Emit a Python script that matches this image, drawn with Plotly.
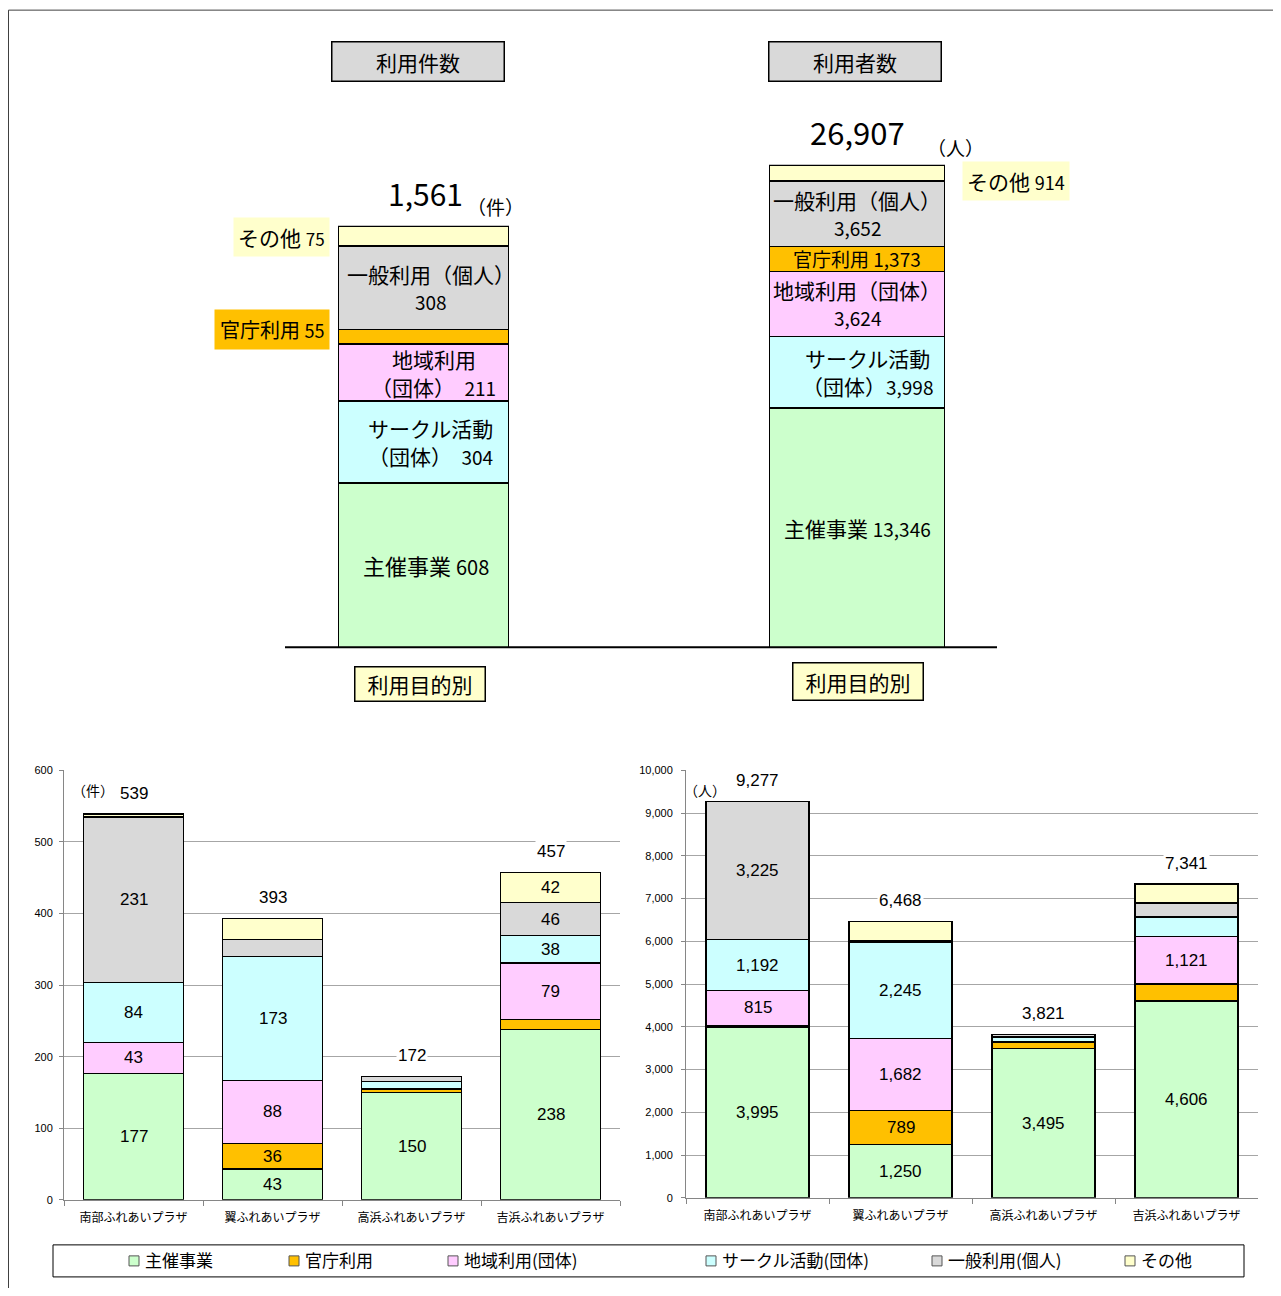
import plotly.graph_objects as go

W, H = 1281, 1296
OX, OY = 8, 8            # page body margin
FW, FH = W - 16, H - 16  # figure size

# ---------------- data ----------------
categories = ["主催事業", "官庁利用", "地域利用(団体)", "サークル活動(団体)", "一般利用(個人)", "その他"]
colors = ["#ccffcc", "#ffc000", "#ffccff", "#ccffff", "#d9d9d9", "#ffffcc"]

total_counts = [608, 55, 211, 304, 308, 75]          # 件
total_users = [13346, 1373, 3624, 3998, 3652, 914]   # 人

plazas = ["南部ふれあいプラザ", "翼ふれあいプラザ", "高浜ふれあいプラザ", "吉浜ふれあいプラザ"]

counts_host = [177, 43, 150, 238]
counts_gov = [0, 36, 5, 14]
counts_local = [43, 88, 1, 79]
counts_circle = [84, 173, 9, 38]
counts_general = [231, 24, 7, 46]
counts_other = [4, 29, 0, 42]

users_host = [3995, 1250, 3495, 4606]
users_gov = [40, 789, 150, 394]
users_local = [815, 1682, 6, 1121]
users_circle = [1192, 2245, 111, 450]
users_general = [3225, 44, 59, 324]
users_other = [10, 458, 0, 446]

count_series = [counts_host, counts_gov, counts_local, counts_circle, counts_general, counts_other]
user_series = [users_host, users_gov, users_local, users_circle, users_general, users_other]

# stacking order of the big bars (bottom -> top): 主催, サークル, 地域, 官庁, 一般, その他
big_order = [0, 3, 2, 1, 4, 5]

# inside labels of the big bars: category index -> (lines, horizontal nudge, jp size, number size)
count_labels = {0: (["主催事業 {}"], 2, 22, 20),
                3: (["サークル活動", "（団体）  {}"], 7, 21, 19),
                2: (["地域利用", "（団体）  {}"], 10, 21, 19),
                4: (["一般利用（個人）", "{}"], 7, 21, 19)}
user_labels = {0: (["主催事業 {}"], 0, 21, 19),
               3: (["サークル活動", "（団体）{}"], 10, 21, 19),
               2: (["地域利用（団体）", "{}"], 0, 21, 19),
               1: (["官庁利用 {}"], 0, 19, 19),
               4: (["一般利用（個人）", "{}"], 0, 21, 19)}

JP = "Noto Sans CJK JP"
NUM = "Liberation Sans Narrow, Liberation Sans, Arial"


def px(x):
    return (x - OX) / FW


def py(y):
    yc = (y - 6.44) / 0.98963
    return 1 - (yc - OY) / FH


fig = go.Figure()

# ---------------- top big bars ----------------
for k in big_order:
    fig.add_bar(x=[0], y=[total_counts[k]], width=1, xaxis="x", yaxis="y", name=categories[k],
                marker=dict(color=colors[k], line=dict(color="black", width=1.5)),
                showlegend=False, hoverinfo="skip")
for k in big_order:
    fig.add_bar(x=[0], y=[total_users[k]], width=1, xaxis="x2", yaxis="y2", name=categories[k],
                marker=dict(color=colors[k], line=dict(color="black", width=1.5)),
                showlegend=False, hoverinfo="skip")

# ---------------- bottom bars ----------------
for cat, col, vals in zip(categories, colors, count_series):
    fig.add_bar(x=plazas, y=vals, xaxis="x3", yaxis="y3", name=cat,
                marker=dict(color=col, line=dict(color="black", width=1.3)),
                showlegend=False, hoverinfo="skip")
for cat, col, vals in zip(categories, colors, user_series):
    fig.add_bar(x=plazas, y=vals, xaxis="x4", yaxis="y4", name=cat,
                marker=dict(color=col, line=dict(color="black", width=1.3)),
                showlegend=False, hoverinfo="skip")

annotations = []


def numspan(s, size):
    return f"<span style='font-size:{size}px'>{s}</span>"


def ann(**kw):
    kw.setdefault("xanchor", "center")
    kw.setdefault("yanchor", "middle")
    kw.setdefault("showarrow", False)
    kw.setdefault("xref", "paper")
    kw.setdefault("yref", "paper")
    annotations.append(kw)


def big_labels(values, labels, xref, yref):
    base = 0
    for k in big_order:
        v = values[k]
        if k in labels:
            lines, nudge, jp_size, num_size = labels[k]
            n = len(lines)
            for j, line in enumerate(lines):
                shift = (n - 1) * 14 - j * 28
                ann(x=0, y=base + v / 2, xref=xref, yref=yref, xshift=nudge, yshift=shift,
                    text=line.format(numspan(f"{v:,}", num_size)),
                    font=dict(size=jp_size, family=JP, color="black"))
        base += v


big_labels(total_counts, count_labels, "x", "y")
big_labels(total_users, user_labels, "x2", "y2")

# callouts outside big bars
ann(x=px(330), y=py(237), xanchor="right",
    text="その他 " + numspan(total_counts[5], 17), bgcolor="#ffffcc", borderpad=4,
    font=dict(size=21, family=JP, color="black"))
ann(x=px(330), y=py(330), xanchor="right",
    text="官庁利用 " + numspan(total_counts[1], 18), bgcolor="#ffc000", borderpad=5,
    font=dict(size=20, family=JP, color="black"))
ann(x=px(962), y=py(181), xanchor="left",
    text="その他 " + numspan(total_users[5], 18), bgcolor="#ffffcc", borderpad=4,
    font=dict(size=21, family=JP, color="black"))
# totals
ann(x=px(425), y=py(193), text=f"{sum(total_counts):,}", font=dict(size=30, family=JP, color="black"))
ann(x=px(495), y=py(207), text="（件）", font=dict(size=19, family=JP, color="black"))
ann(x=px(857), y=py(132), text=f"{sum(total_users):,}", font=dict(size=31, family=JP, color="black"))
ann(x=px(955), y=py(148), text="（人）", font=dict(size=19, family=JP, color="black"))
# title boxes
for cx, cy, txt, bg, w, h in [(418, 62, "利用件数", "#d9d9d9", 171, 38),
                              (855, 62, "利用者数", "#d9d9d9", 171, 38),
                              (420, 684, "利用目的別", "#ffffcc", 129, 33),
                              (858, 681, "利用目的別", "#ffffcc", 129, 36)]:
    ann(x=px(cx), y=py(cy), text=txt, width=w, height=h, bgcolor=bg,
        bordercolor="black", borderwidth=1.5, borderpad=0,
        font=dict(size=21, family=JP, color="black"))
# unit labels
ann(x=px(93), y=py(790), text="（件）", font=dict(size=14, family=JP, color="black"))
ann(x=px(705), y=py(790), text="（人）", font=dict(size=14, family=JP, color="black"))


# bottom value labels
def add_bottom_labels(series, xref, yref, threshold):
    bases = [0] * len(plazas)
    for vals in series:
        for i, v in enumerate(vals):
            if v >= threshold:
                ann(x=plazas[i], y=bases[i] + v / 2, xref=xref, yref=yref, text=f"{v:,}",
                    font=dict(size=17, family=NUM, color="black"))
            bases[i] += v
    for i, tot in enumerate(bases):
        ann(x=plazas[i], y=tot, xref=xref, yref=yref, yshift=21, text=f"{tot:,}",
            bgcolor="white", font=dict(size=17, family=NUM, color="black"))


add_bottom_labels(count_series, "x3", "y3", 35)
add_bottom_labels(user_series, "x4", "y4", 700)

# legend (manual)
legend_sq_x = [129, 289, 448, 706, 932, 1125]
shapes = []
for cat, col, sx in zip(categories, colors, legend_sq_x):
    shapes.append(dict(type="rect", xref="paper", yref="paper", x0=px(sx), x1=px(sx + 10),
                       y0=py(1265), y1=py(1255), fillcolor=col, line=dict(color="#555555", width=1)))
    ann(x=px(sx + 14), y=py(1259), xanchor="left", text=cat,
        font=dict(size=17, family=JP, color="black"))

shapes += [
    # outer frame
    dict(type="rect", xref="paper", yref="paper", x0=px(8.5), x1=px(1300), y0=py(1330), y1=py(10.5),
         line=dict(color="#404040", width=1)),
    # baseline of big bars
    dict(type="line", xref="paper", yref="paper", x0=px(285), x1=px(997), y0=py(647), y1=py(647),
         line=dict(color="black", width=2)),
    # legend box
    dict(type="rect", xref="paper", yref="paper", x0=px(53), x1=px(1244), y0=py(1276), y1=py(1244),
         line=dict(color="black", width=1)),
]

axis_grey = "#868686"
fig.update_layout(
    width=FW, height=FH, margin=dict(l=0, r=0, t=0, b=0),
    paper_bgcolor="white", plot_bgcolor="rgba(0,0,0,0)",
    barmode="stack", bargap=0.28, showlegend=False,
    font=dict(family=JP, color="black"),
    xaxis=dict(domain=[px(338), px(509)], range=[-0.5, 0.5], visible=False, anchor="y"),
    yaxis=dict(domain=[py(647), py(226)], range=[0, sum(total_counts)], visible=False, anchor="x"),
    xaxis2=dict(domain=[px(769), px(945)], range=[-0.5, 0.5], visible=False, anchor="y2"),
    yaxis2=dict(domain=[py(647), py(165)], range=[0, sum(total_users)], visible=False, anchor="x2"),
    xaxis3=dict(domain=[px(64), px(620)], anchor="y3", type="category", showline=True,
                linecolor=axis_grey, ticks="outside", tickson="boundaries", ticklen=5,
                tickcolor=axis_grey, ticklabelstandoff=7,
                tickfont=dict(size=12, family=JP, color="black")),
    yaxis3=dict(domain=[py(1199), py(770)], anchor="x3", range=[0, 600], dtick=100,
                showgrid=True, gridcolor="#a6a6a6", showline=True, linecolor=axis_grey,
                ticks="outside", ticklen=4, tickcolor=axis_grey, zeroline=False,
                ticklabelstandoff=4,
                tickfont=dict(size=11, family="Liberation Sans", color="black")),
    xaxis4=dict(domain=[px(686), px(1258)], anchor="y4", type="category", showline=True,
                linecolor=axis_grey, ticks="outside", tickson="boundaries", ticklen=5,
                tickcolor=axis_grey, ticklabelstandoff=7,
                tickfont=dict(size=12, family=JP, color="black")),
    yaxis4=dict(domain=[py(1197), py(770)], anchor="x4", range=[0, 10000], dtick=1000,
                tickformat=",d", showgrid=True, gridcolor="#a6a6a6", showline=True,
                linecolor=axis_grey, ticks="outside", ticklen=4, tickcolor=axis_grey,
                zeroline=False, ticklabelstandoff=6,
                tickfont=dict(size=11, family="Liberation Sans", color="black")),
    annotations=annotations,
    shapes=shapes,
)

fig.write_html("out.html")
